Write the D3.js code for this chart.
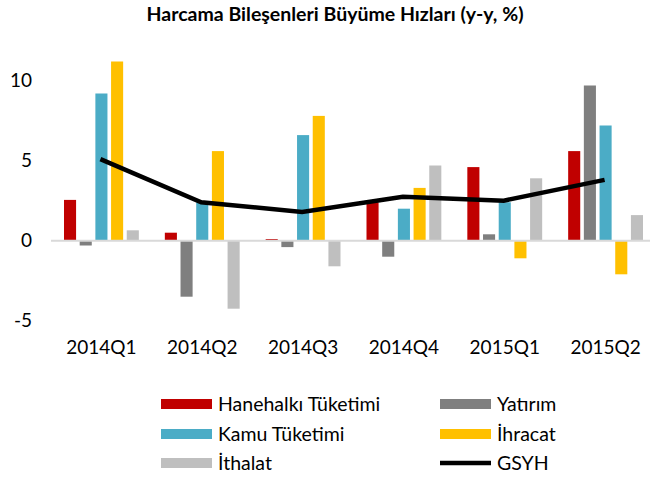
<!DOCTYPE html>
<html>
<head>
<meta charset="utf-8">
<script src="https://cdn.jsdelivr.net/npm/d3@7"></script>
<style>
  body { margin: 0; background: #fff; }
  text { font-family: Lato, "Open Sans", sans-serif; fill: #000; }
</style>
</head>
<body>
<svg id="chart" width="650" height="480"></svg>
<script>
// data
var quarters = ["2014Q1", "2014Q2", "2014Q3", "2014Q4", "2015Q1", "2015Q2"];
var hanehalki = [2.55, 0.5, 0.1, 2.4, 4.6, 5.6];
var yatirim = [-0.3, -3.5, -0.4, -1.0, 0.4, 9.7];
var kamu = [9.2, 2.4, 6.6, 2.0, 2.4, 7.2];
var ihracat = [11.2, 5.6, 7.8, 3.3, -1.1, -2.1];
var ithalat = [0.65, -4.25, -1.6, 4.7, 3.9, 1.6];
var gsyh = [5.1, 2.4, 1.8, 2.75, 2.5, 3.8];
var yTicks = [10, 5, 0, -5];

var series = [
  {name: "Hanehalkı Tüketimi", values: hanehalki, color: "#C00000"},
  {name: "Yatırım", values: yatirim, color: "#7F7F7F"},
  {name: "Kamu Tüketimi", values: kamu, color: "#4BACC6"},
  {name: "İhracat", values: ihracat, color: "#FFC000"},
  {name: "İthalat", values: ithalat, color: "#BFBFBF"}
];

var svg = d3.select("#chart");

var x0 = d3.scaleBand().domain(quarters).range([50, 655]);
var x1 = d3.scaleBand().domain(series.map(function(s){ return s.name; }))
  .range([14, x0.bandwidth() - 12]).paddingInner(0.23);
var y = d3.scaleLinear().domain([-5, 10]).range([320.7, 80.7]);

// title
svg.append("text")
  .attr("x", 335).attr("y", 21)
  .attr("text-anchor", "middle")
  .style("font-size", "19.5px").style("font-weight", "bold")
  .text("Harcama Bileşenleri Büyüme Hızları (y-y, %)");

// y labels
svg.append("g").selectAll("text")
  .data(yTicks).enter().append("text")
  .attr("x", 32).attr("y", function(d){ return y(d); })
  .attr("dy", "0.35em")
  .attr("text-anchor", "end")
  .style("font-size", "19px")
  .text(function(d){ return d; });

// bars
var groups = svg.append("g").selectAll("g")
  .data(quarters).enter().append("g")
  .attr("transform", function(d){ return "translate(" + x0(d) + ",0)"; });

groups.selectAll("rect")
  .data(function(d, i){
    return series.map(function(s){ return {name: s.name, v: s.values[i], color: s.color}; });
  })
  .enter().append("rect")
  .attr("x", function(d){ return x1(d.name); })
  .attr("width", x1.bandwidth())
  .attr("y", function(d){ return y(Math.max(0, d.v)); })
  .attr("height", function(d){ return Math.abs(y(d.v) - y(0)); })
  .attr("fill", function(d){ return d.color; });

// zero line
svg.append("line")
  .attr("x1", 51).attr("x2", 650)
  .attr("y1", y(0)).attr("y2", y(0))
  .attr("stroke", "#D9D9D9").attr("stroke-width", 2);

// GSYH line
var line = d3.line()
  .x(function(d, i){ return x0(quarters[i]) + x0.bandwidth() / 2; })
  .y(function(d){ return y(d); });

svg.append("path")
  .datum(gsyh)
  .attr("d", line)
  .attr("fill", "none")
  .attr("stroke", "#000")
  .attr("stroke-width", 4.5);

// x labels
svg.append("g").selectAll("text")
  .data(quarters).enter().append("text")
  .attr("x", function(d){ return x0(d) + x0.bandwidth() / 2 + 1; })
  .attr("y", 354)
  .attr("text-anchor", "middle")
  .style("font-size", "19px")
  .text(function(d){ return d; });

// legend
var legendItems = [
  {name: series[0].name, color: series[0].color, col: 0, row: 0},
  {name: series[1].name, color: series[1].color, col: 1, row: 0},
  {name: series[2].name, color: series[2].color, col: 0, row: 1},
  {name: series[3].name, color: series[3].color, col: 1, row: 1},
  {name: series[4].name, color: series[4].color, col: 0, row: 2},
  {name: "GSYH", color: "#000", col: 1, row: 2, isLine: true}
];
var colX = [161, 440];
var rowY = [404, 434, 463];

var leg = svg.append("g").selectAll("g")
  .data(legendItems).enter().append("g")
  .attr("transform", function(d){ return "translate(" + colX[d.col] + "," + rowY[d.row] + ")"; });

leg.each(function(d){
  var g = d3.select(this);
  if (d.isLine) {
    g.append("line").attr("x1", 0).attr("x2", 51).attr("y1", 0).attr("y2", 0)
      .attr("stroke", d.color).attr("stroke-width", 4.5);
  } else {
    g.append("rect").attr("x", 0).attr("y", -5).attr("width", 51).attr("height", 10)
      .attr("fill", d.color);
  }
  g.append("text").attr("x", 57).attr("y", 0).attr("dy", "0.35em")
    .style("font-size", "19.5px")
    .text(d.name);
});
</script>
</body>
</html>
